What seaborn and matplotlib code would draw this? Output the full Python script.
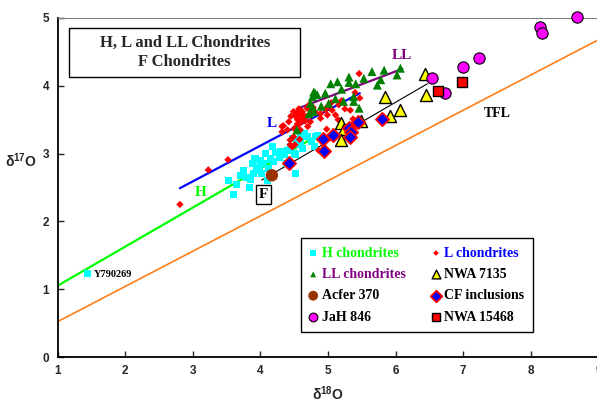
import matplotlib
matplotlib.use('Agg')
import matplotlib.pyplot as plt
import matplotlib.patches as mpatches
import seaborn as sns
import numpy as np
import pandas as pd

# ---- data (delta18O, delta17O) ----
h_x = [1.44, 3.53, 3.60, 3.84, 3.80, 3.88, 3.70, 3.75, 3.90, 3.95, 4.00, 3.98, 4.05, 4.08, 4.12,
       4.15, 4.20, 4.22, 4.28, 4.30, 4.35, 4.40, 4.38, 4.45, 4.50, 4.52, 4.55, 4.60, 4.62, 4.70,
       4.75, 4.85, 4.80, 3.65, 3.85, 4.02, 3.92, 4.18, 4.48, 4.10, 4.65, 4.81, 4.59, 4.54, 4.52]
h_y = [1.23, 2.60, 2.40, 2.50, 2.65, 2.86, 2.68, 2.75, 2.70, 2.80, 2.90, 2.75, 2.85, 3.00, 2.78,
       2.92, 2.88, 3.02, 2.95, 3.03, 2.98, 3.05, 2.85, 3.10, 3.00, 2.71, 3.20, 3.15, 3.08, 3.25,
       3.18, 3.27, 3.10, 2.55, 2.62, 2.70, 2.92, 3.10, 3.22, 2.60, 3.30, 3.25, 3.25, 3.13, 2.98]

l_x = [2.81, 3.23, 3.52, 4.32, 4.34, 4.40, 4.42, 4.49, 4.50, 4.52, 4.55, 4.57, 4.59, 4.62, 4.64,
       4.66, 4.69, 4.74, 4.74, 4.81, 4.89, 4.89, 4.96, 4.99, 4.98, 5.06, 5.11, 5.16, 5.33, 5.46,
       5.47, 4.44, 4.49, 4.58, 4.44, 4.51, 4.86, 4.32, 4.47, 4.55, 4.60, 4.63, 4.68, 4.53, 4.57,
       5.36, 5.37, 5.00, 5.20, 5.25, 4.70, 4.78, 5.40, 5.05, 4.45, 4.62, 4.55, 4.72, 5.30, 5.15]
l_y = [2.25, 2.76, 2.91, 3.32, 3.41, 3.35, 3.47, 3.62, 3.37, 3.55, 3.50, 3.58, 3.35, 3.52, 3.57,
       3.48, 3.67, 3.59, 3.47, 3.61, 3.59, 3.52, 3.65, 3.57, 3.36, 3.64, 3.57, 3.72, 3.64, 4.18,
       3.82, 3.20, 3.25, 3.21, 3.13, 3.13, 3.05, 3.40, 3.10, 3.44, 3.46, 3.53, 3.54, 3.60, 3.66,
       3.28, 3.51, 3.70, 3.78, 3.66, 3.40, 3.68, 3.90, 3.75, 3.55, 3.62, 3.42, 3.72, 3.35, 3.50]

ll_x = [5.65, 5.83, 6.07, 6.02, 5.78, 5.73, 5.53, 5.31, 5.31, 5.14, 5.04, 5.41, 4.96, 4.79, 4.84,
        4.77, 5.11, 5.01, 5.38, 5.38, 5.46, 4.74, 4.79, 4.72, 5.23, 4.81, 4.77, 4.54, 4.90, 5.20]
ll_y = [4.21, 4.23, 4.26, 4.16, 4.09, 4.01, 4.11, 4.13, 4.05, 4.06, 4.03, 4.03, 3.89, 3.91, 3.87,
        3.84, 3.81, 3.74, 3.84, 3.77, 3.67, 3.74, 3.62, 3.59, 3.77, 3.89, 3.69, 3.35, 3.70, 3.95]

nwa7135_x = [6.43, 6.45, 5.85, 5.92, 6.07, 5.19, 5.23, 5.49, 5.19]
nwa7135_y = [4.17, 3.87, 3.84, 3.56, 3.65, 3.45, 3.37, 3.48, 3.20]

acfer_x = [4.17]
acfer_y = [2.68]

cf_x = [5.44, 5.31, 5.34, 5.32, 5.07, 4.92, 4.94, 5.80, 4.43]
cf_y = [3.47, 3.38, 3.32, 3.25, 3.28, 3.21, 3.04, 3.51, 2.86]

jah_x = [8.68, 8.13, 8.16, 7.24, 7.00, 6.54, 6.73]
jah_y = [5.01, 4.86, 4.78, 4.41, 4.27, 4.11, 3.89]

nwa15468_x = [6.62, 6.98]
nwa15468_y = [3.92, 4.05]

# fractionation lines (end points)
tfl_x, tfl_y = [1.0, 9.0], [0.52, 4.68]
hline_x, hline_y = [1.0, 4.85], [1.05, 3.27]
lline_x, lline_y = [2.81, 5.47], [2.49, 3.89]
llline_x, llline_y = [4.54, 6.10], [3.66, 4.25]
fline_x, fline_y = [4.02, 6.47], [2.61, 4.03]

sns.set_style('ticks')
plt.rcParams['font.family'] = ['Liberation Sans', 'DejaVu Sans']
plt.rcParams['mathtext.fontset'] = 'custom'
plt.rcParams['mathtext.rm'] = 'Liberation Sans:bold'
plt.rcParams['mathtext.bf'] = 'Liberation Sans:bold'
serif = ['Liberation Serif', 'DejaVu Serif']

fig = plt.figure(figsize=(5.97, 3.99), dpi=100)
ax = fig.add_axes([57.5 / 597, 42 / 399, 541 / 597, 339 / 399])

# lines
sns.lineplot(x=tfl_x, y=tfl_y, color='#FF7F1A', lw=1.2, ax=ax)
sns.lineplot(x=hline_x, y=hline_y, color='#00FF00', lw=1.6, ax=ax)
sns.lineplot(x=lline_x, y=lline_y, color='#0000FF', lw=1.6, ax=ax)
sns.lineplot(x=llline_x, y=llline_y, color='#800080', lw=1.6, ax=ax)
sns.lineplot(x=fline_x, y=fline_y, color='black', lw=0.8, ax=ax)

# points
sns.scatterplot(x=h_x, y=h_y, marker='s', s=26, color='#00FFFF', edgecolor='none',
                label='H chondrites', ax=ax, zorder=3)
sns.scatterplot(x=l_x, y=l_y, marker='D', s=14, color='#FF0000', edgecolor='none',
                label='L chondrites', ax=ax, zorder=3)
sns.scatterplot(x=ll_x, y=ll_y, marker='^', s=42, color='#008000', edgecolor='none',
                label='LL chondrites', ax=ax, zorder=3)
sns.scatterplot(x=nwa7135_x, y=nwa7135_y, marker='^', s=75, color='#FFFF00', edgecolor='black',
                linewidth=1, label='NWA 7135', ax=ax, zorder=4)
sns.scatterplot(x=acfer_x, y=acfer_y, marker='o', s=80, color='#993300', edgecolor='none',
                label='Acfer 370', ax=ax, zorder=4)
sns.scatterplot(x=cf_x, y=cf_y, marker='D', s=45, color='#0000FF', edgecolor='#FF0000',
                linewidth=1.3, label='CF inclusions', ax=ax, zorder=4)
sns.scatterplot(x=jah_x, y=jah_y, marker='o', s=66, color='#FF00FF', edgecolor='black',
                linewidth=0.8, label='JaH 846', ax=ax, zorder=4, clip_on=False)
sns.scatterplot(x=nwa15468_x, y=nwa15468_y, marker='s', s=55, color='#FF0000', edgecolor='black',
                linewidth=1, label='NWA 15468', ax=ax, zorder=4)

# axes styling
ax.set_xlim(1, 9)
ax.set_ylim(0, 5)
ax.set_xticks(range(1, 10))
ax.set_yticks(range(0, 6))
ax.tick_params(direction='in', length=4, width=1, labelsize=8.5, pad=6)
for lab in ax.get_xticklabels() + ax.get_yticklabels():
    lab.set_fontweight('bold')
ax.spines['right'].set_visible(False)
ax.spines['top'].set_color('#808080')
for sp in ['left', 'bottom']:
    ax.spines[sp].set_color('black')
    ax.spines[sp].set_linewidth(1.3)
ax.set_xlabel(r'δ$^{18}$O', fontsize=10, fontweight='bold', labelpad=5)
ax.set_ylabel(r'δ$^{17}$O', fontsize=10, fontweight='bold', rotation=0, ha='center', va='center')
ax.yaxis.set_label_coords(-0.068, 0.58)

# line labels
ax.text(3.11, 2.42, 'H', color='#00FF00', fontsize=11, fontweight='bold', family=serif, ha='center', va='center')
ax.text(4.17, 3.44, 'L', color='#0000FF', fontsize=11, fontweight='bold', family=serif, ha='center', va='center')
ax.text(6.10, 4.45, 'LL', color='#800080', fontsize=11, fontweight='bold', family=serif, ha='center', va='center')
ax.text(7.51, 3.59, 'TFL', color='black', fontsize=10, fontweight='bold', family=serif, ha='center', va='center')
ax.text(4.05, 2.40, 'F', color='black', fontsize=11, fontweight='bold', family=serif, ha='center', va='center',
        bbox=dict(boxstyle='square,pad=0.2', fc='white', ec='black', lw=1))
ax.text(1.53, 1.21, 'Y790269', color='black', fontsize=7.5, fontweight='bold', family=serif, ha='left', va='center')

# title box
ax.add_patch(mpatches.Rectangle((0.0218, 0.827), 0.426, 0.143, transform=ax.transAxes,
                                fc='white', ec='black', lw=1, zorder=5))
ax.text(0.235, 0.898, 'H, L and LL Chondrites\nF Chondrites', transform=ax.transAxes,
        ha='center', va='center', fontsize=12, fontweight='bold', family=serif,
        linespacing=1.25, zorder=6)

# legend
handles, labels = ax.get_legend_handles_labels()
order = [0, 2, 4, 6, 1, 3, 5, 7]
leg = ax.legend([handles[i] for i in order], [labels[i] for i in order], ncol=2,
                loc='upper left', bbox_to_anchor=(0.4495, 0.350), borderaxespad=0,
                frameon=True, fancybox=False, edgecolor='black', framealpha=1,
                prop={'family': serif, 'weight': 'bold', 'size': 10},
                handlelength=0.6, handletextpad=0.3, columnspacing=1.9,
                labelspacing=0.6, borderpad=0.6)
leg.get_frame().set_linewidth(1)
# handle sizes in legend order: H, LL, Acfer, JaH, L, NWA7135, CF, NWA15468
leg_sizes = [16, 18, 50, 40, 8, 40, 35, 35]
leg_colors = ['#00FF00', '#800080', 'black', 'black', '#0000FF', 'black', 'black', 'black']
for h, s in zip(leg.legend_handles, leg_sizes):
    h.set_sizes([s])
for t, c in zip(leg.get_texts(), leg_colors):
    t.set_color(c)

fig.savefig('out.png', dpi=100)
